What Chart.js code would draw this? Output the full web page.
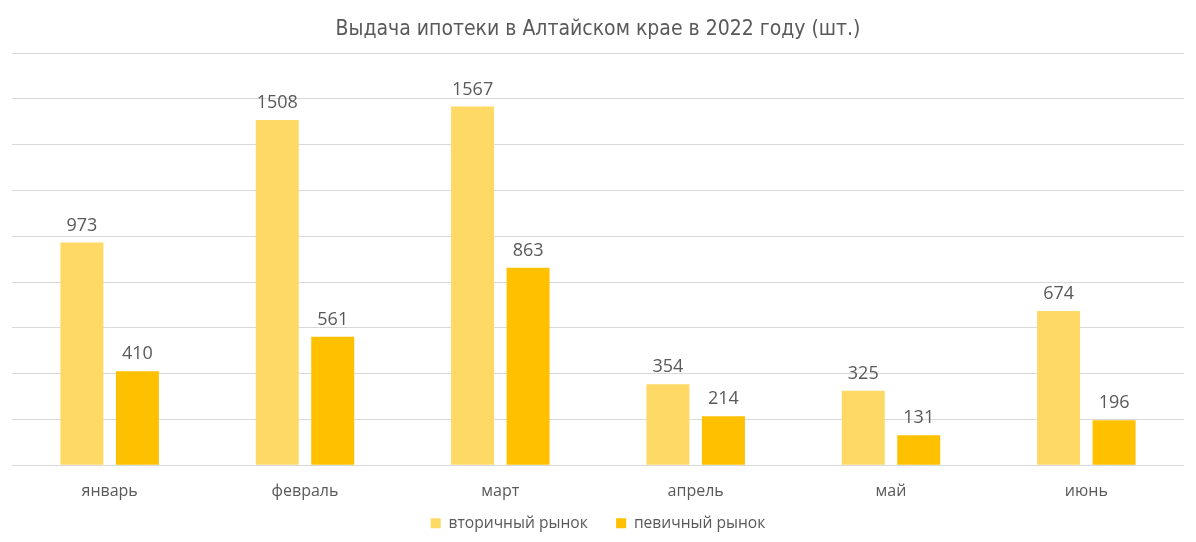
<!DOCTYPE html>
<html>
<head>
<meta charset="utf-8">
<script src="https://cdn.jsdelivr.net/npm/chart.js@4"></script>
<style>
  html, body { margin: 0; padding: 0; background: #fff; }
  #wrap { width: 1196px; height: 542px; position: relative; }
</style>
</head>
<body>
<div id="wrap"><canvas id="mortgageChart"></canvas></div>
<script>
// Data
const months = ["январь", "февраль", "март", "апрель", "май", "июнь"];
const secondary = [973, 1508, 1567, 354, 325, 674];
const primary = [410, 561, 863, 214, 131, 196];
const yTicks = [0, 200, 400, 600, 800, 1000, 1200, 1400, 1600, 1800];

const textColor = "#595959";

// numbers above bars
const barLabels = {
  id: "barLabels",
  afterDatasetsDraw(chart) {
    const ctx = chart.ctx;
    ctx.save();
    ctx.font = "18px 'Open Sans'";
    ctx.fillStyle = textColor;
    ctx.textAlign = "center";
    ctx.textBaseline = "bottom";
    chart.data.datasets.forEach((ds, i) => {
      chart.getDatasetMeta(i).data.forEach((bar, j) => {
        ctx.fillText(ds.data[j], bar.x, bar.y - 8);
      });
    });
    ctx.restore();
  },
};

const ctx = document.getElementById("mortgageChart").getContext("2d");
new Chart(ctx, {
  type: "bar",
  data: {
    labels: months,
    datasets: [
      {
        label: "вторичный рынок",
        data: secondary,
        backgroundColor: "#FFD966",
        categoryPercentage: 0.568,
        barPercentage: 0.775,
      },
      {
        label: "певичный рынок",
        data: primary,
        backgroundColor: "#FFC000",
        categoryPercentage: 0.568,
        barPercentage: 0.775,
      },
    ],
  },
  options: {
    responsive: true,
    maintainAspectRatio: false,
    animation: false,
    layout: { padding: { left: 12, right: 12, top: 6, bottom: 1 } },
    plugins: {
      title: {
        display: true,
        text: "Выдача ипотеки в Алтайском крае в 2022 году (шт.)",
        color: textColor,
        font: { family: "'Liberation Sans Narrow', 'DejaVu Sans Condensed'", size: 21, weight: "normal" },
        padding: { top: 11, bottom: 11 },
      },
      legend: {
        position: "bottom",
        labels: {
          color: textColor,
          font: { family: "'Open Sans'", size: 15.6 },
          boxWidth: 10,
          boxHeight: 10,
          padding: 5,
          // wider gap between the two legend entries
          generateLabels(chart) {
            const items = Chart.defaults.plugins.legend.labels.generateLabels(chart);
            items[0].text += "\u2003\u2002";
            return items;
          },
        },
      },
      tooltip: { enabled: false },
    },
    scales: {
      x: {
        grid: { display: false },
        border: { display: false },
        ticks: { color: textColor, font: { family: "'Open Sans'", size: 16 }, padding: 9 },
      },
      y: {
        min: 0,
        max: yTicks[yTicks.length - 1],
        afterBuildTicks: (axis) => { axis.ticks = yTicks.map((v) => ({ value: v })); },
        grid: { color: "#d9d9d9", drawTicks: false },
        border: { display: false },
        ticks: { display: false },
      },
    },
  },
  plugins: [barLabels],
});
</script>
</body>
</html>
